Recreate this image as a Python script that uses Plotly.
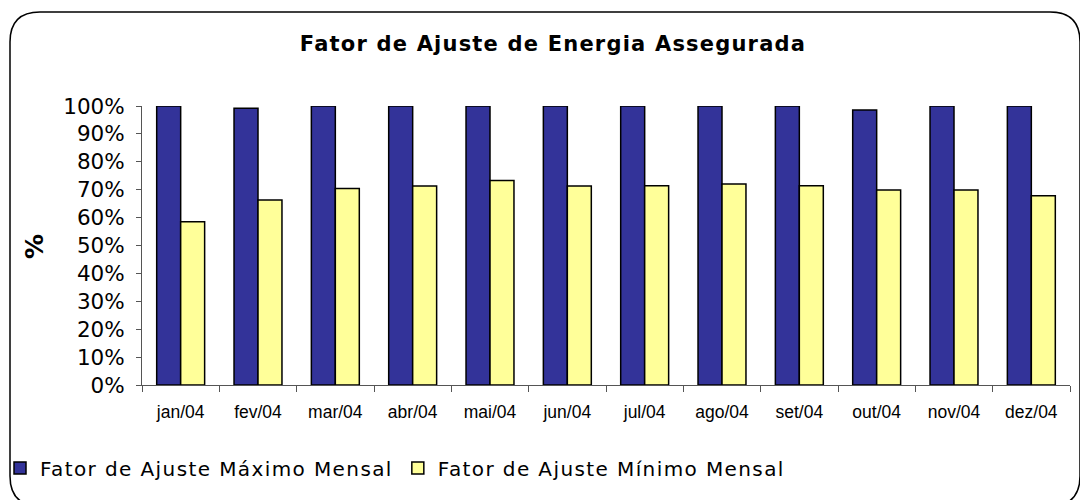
import plotly.graph_objects as go

# chart values (in %)
months = ['jan/04', 'fev/04', 'mar/04', 'abr/04', 'mai/04', 'jun/04',
          'jul/04', 'ago/04', 'set/04', 'out/04', 'nov/04', 'dez/04']
fator_max = [100.0, 99.2, 100.0, 100.0, 100.0, 100.0,
             100.0, 100.0, 100.0, 98.6, 100.0, 100.0]
fator_min = [58.5, 66.3, 70.4, 71.3, 73.3, 71.3,
             71.4, 72.0, 71.4, 69.9, 69.9, 67.8]
y_ticks = list(range(0, 101, 10))
y_labels = ['{:d}%'.format(v) for v in y_ticks]
series_names = ['Fator de Ajuste Máximo Mensal', 'Fator de Ajuste Mínimo Mensal']
title_text = 'Fator de Ajuste de Energia Assegurada'

W, H = 1088, 500
OFF = 8                            # page body margin of the html page
L, R, T, B = 142, 1070, 106, 385   # plot area in window px


def px2paper(px, py):
  return (px - L) / (R - L), (B - py) / (B - T)


def spaced(s, sp):
  return '<span style="letter-spacing:{}px">{}</span>'.format(sp, s)


def rounded_box(x0, y0, x1, y1, r):
  # path in paper coords for a rounded rectangle given in window px
  def p(x, y):
    a, b = px2paper(x, y)
    return '{:.5f},{:.5f}'.format(a, b)
  path = 'M ' + p(x0 + r, y0)
  path += ' L ' + p(x1 - r, y0)
  path += ' Q ' + p(x1, y0) + ' ' + p(x1, y0 + r)
  path += ' L ' + p(x1, y1 - r)
  path += ' Q ' + p(x1, y1) + ' ' + p(x1 - r, y1)
  path += ' L ' + p(x0 + r, y1)
  path += ' Q ' + p(x0, y1) + ' ' + p(x0, y1 - r)
  path += ' L ' + p(x0, y0 + r)
  path += ' Q ' + p(x0, y0) + ' ' + p(x0 + r, y0) + ' Z'
  return path


fig = go.Figure()
fig.add_trace(go.Bar(x=months, y=fator_max, name=spaced(series_names[0], 1.4),
                     marker=dict(color='#333399', line=dict(color='black', width=1.5))))
fig.add_trace(go.Bar(x=months, y=fator_min, name=spaced(series_names[1], 1.4),
                     marker=dict(color='#FFFF99', line=dict(color='black', width=1.5))))

lx, ly = px2paper(0, 468)
ax, ay = px2paper(34, 247)

fig.update_layout(
  width=W - OFF, height=H - OFF,
  margin=dict(l=L - OFF, r=W - R, t=T - OFF, b=H - B, pad=0, autoexpand=False),
  paper_bgcolor='white', plot_bgcolor='white',
  barmode='group', bargap=0.38, bargroupgap=0,
  font=dict(family='DejaVu Sans', color='black'),
  title=dict(text='<b>' + spaced(title_text, 1.2) + '</b>',
             x=(553 - OFF) / (W - OFF), xanchor='center',
             y=1 - (44 - OFF) / (H - OFF), yanchor='middle',
             font=dict(family='DejaVu Sans', size=21, color='black')),
  xaxis=dict(type='category', tickson='boundaries', ticks='outside', ticklen=6,
             tickcolor='#555', showline=True, linecolor='#555', linewidth=1,
             showgrid=False, ticklabelstandoff=11,
             tickfont=dict(family='Liberation Sans', size=17.5, color='black')),
  yaxis=dict(range=[0, 100], tickmode='array', tickvals=y_ticks, ticktext=y_labels,
             ticks='outside', ticklen=5, tickcolor='#555', showline=True,
             linecolor='#555', linewidth=1, showgrid=False, zeroline=False,
             ticklabelstandoff=7,
             tickfont=dict(family='DejaVu Sans', size=21.5, color='black')),
  legend=dict(orientation='h', x=lx, xanchor='left', y=ly, yanchor='middle',
              font=dict(family='DejaVu Sans', size=20, color='black'),
              bgcolor='rgba(0,0,0,0)', traceorder='normal'),
  shapes=[dict(type='path', xref='paper', yref='paper',
               path=rounded_box(10, 12, 1080, 506, 30),
               line=dict(color='black', width=1.5), fillcolor='rgba(0,0,0,0)',
               layer='below')],
  annotations=[dict(text='<b>%</b>', xref='paper', yref='paper', x=ax, y=ay,
                    xanchor='center', yanchor='middle',
                    showarrow=False, textangle=-90,
                    font=dict(family='DejaVu Sans', size=25, color='black'))],
)

fig.write_html('out.html')
